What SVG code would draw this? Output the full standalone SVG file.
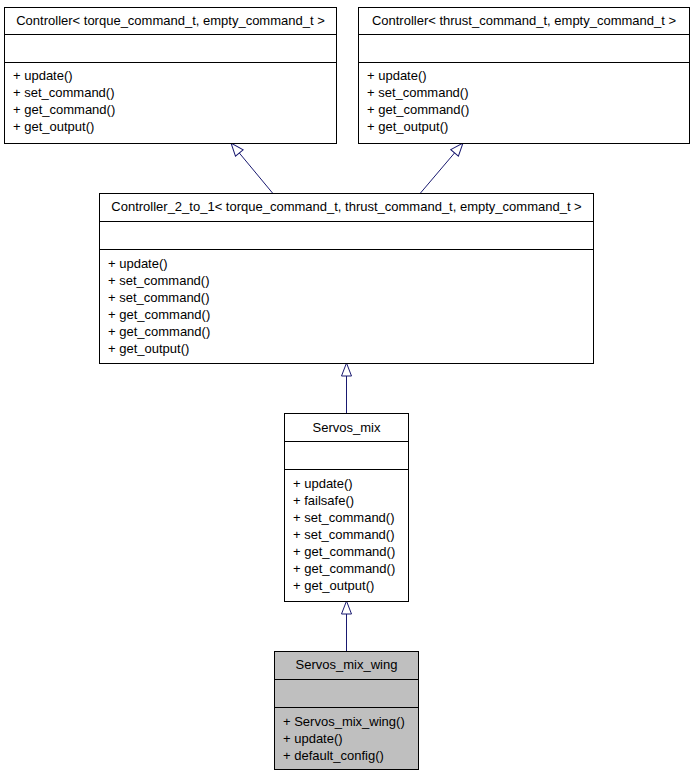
<svg xmlns="http://www.w3.org/2000/svg" width="693" height="776" viewBox="0 0 693 776">
<style>
.box{fill:#ffffff;stroke:#000000;stroke-width:1}
.gray{fill:#bfbfbf}
.sep{stroke:#000000;stroke-width:1}
text{font-family:"Liberation Sans",Arial,sans-serif;font-size:13px;fill:#000000}
.t{text-anchor:middle}
.edge{stroke:#191970;stroke-width:1;fill:none}
</style>
<defs>
<marker id="inh" markerWidth="16" markerHeight="12" refX="14" refY="6" orient="auto" markerUnits="userSpaceOnUse">
<path d="M1,1 L14,6 L1,11 Z" fill="#ffffff" stroke="#191970" stroke-width="1"/>
</marker>
</defs>
<g id="connectors">
<path class="edge" d="M272.5,193 L231,143" marker-end="url(#inh)"/>
<path class="edge" d="M420.5,193 L463,143" marker-end="url(#inh)"/>
<path class="edge" d="M346.5,413 L346.5,363" marker-end="url(#inh)"/>
<path class="edge" d="M346.5,651 L346.5,601" marker-end="url(#inh)"/>
</g>
<g id="node_controller_torque">
<rect class="box" x="4.5" y="7.5" width="332" height="136"/>
<line class="sep" x1="4.5" y1="34.5" x2="336.5" y2="34.5"/>
<line class="sep" x1="4.5" y1="62.5" x2="336.5" y2="62.5"/>
<text class="t" x="170.5" y="25">Controller&lt; torque_command_t, empty_command_t &gt;</text>
<text x="13" y="80">+ update()</text>
<text x="13" y="97">+ set_command()</text>
<text x="13" y="114">+ get_command()</text>
<text x="13" y="131">+ get_output()</text>
</g>
<g id="node_controller_thrust">
<rect class="box" x="358.5" y="7.5" width="331" height="136"/>
<line class="sep" x1="358.5" y1="34.5" x2="689.5" y2="34.5"/>
<line class="sep" x1="358.5" y1="62.5" x2="689.5" y2="62.5"/>
<text class="t" x="524" y="25">Controller&lt; thrust_command_t, empty_command_t &gt;</text>
<text x="367" y="80">+ update()</text>
<text x="367" y="97">+ set_command()</text>
<text x="367" y="114">+ get_command()</text>
<text x="367" y="131">+ get_output()</text>
</g>
<g id="node_controller_2_to_1">
<rect class="box" x="99.5" y="193.5" width="494" height="170"/>
<line class="sep" x1="99.5" y1="221.5" x2="593.5" y2="221.5"/>
<line class="sep" x1="99.5" y1="249.5" x2="593.5" y2="249.5"/>
<text class="t" x="346.5" y="211">Controller_2_to_1&lt; torque_command_t, thrust_command_t, empty_command_t &gt;</text>
<text x="108" y="268">+ update()</text>
<text x="108" y="285">+ set_command()</text>
<text x="108" y="302">+ set_command()</text>
<text x="108" y="319">+ get_command()</text>
<text x="108" y="336">+ get_command()</text>
<text x="108" y="353">+ get_output()</text>
</g>
<g id="node_servos_mix">
<rect class="box" x="284.5" y="413.5" width="124" height="188"/>
<line class="sep" x1="284.5" y1="441.5" x2="408.5" y2="441.5"/>
<line class="sep" x1="284.5" y1="469.5" x2="408.5" y2="469.5"/>
<text class="t" x="346.5" y="432">Servos_mix</text>
<text x="293" y="488">+ update()</text>
<text x="293" y="505">+ failsafe()</text>
<text x="293" y="522">+ set_command()</text>
<text x="293" y="539">+ set_command()</text>
<text x="293" y="556">+ get_command()</text>
<text x="293" y="573">+ get_command()</text>
<text x="293" y="590">+ get_output()</text>
</g>
<g id="node_servos_mix_wing">
<rect class="box gray" x="274.5" y="651.5" width="144" height="118"/>
<line class="sep" x1="274.5" y1="679.5" x2="418.5" y2="679.5"/>
<line class="sep" x1="274.5" y1="707.5" x2="418.5" y2="707.5"/>
<text class="t" x="346.5" y="669">Servos_mix_wing</text>
<text x="283" y="726">+ Servos_mix_wing()</text>
<text x="283" y="743">+ update()</text>
<text x="283" y="760">+ default_config()</text>
</g>
</svg>
